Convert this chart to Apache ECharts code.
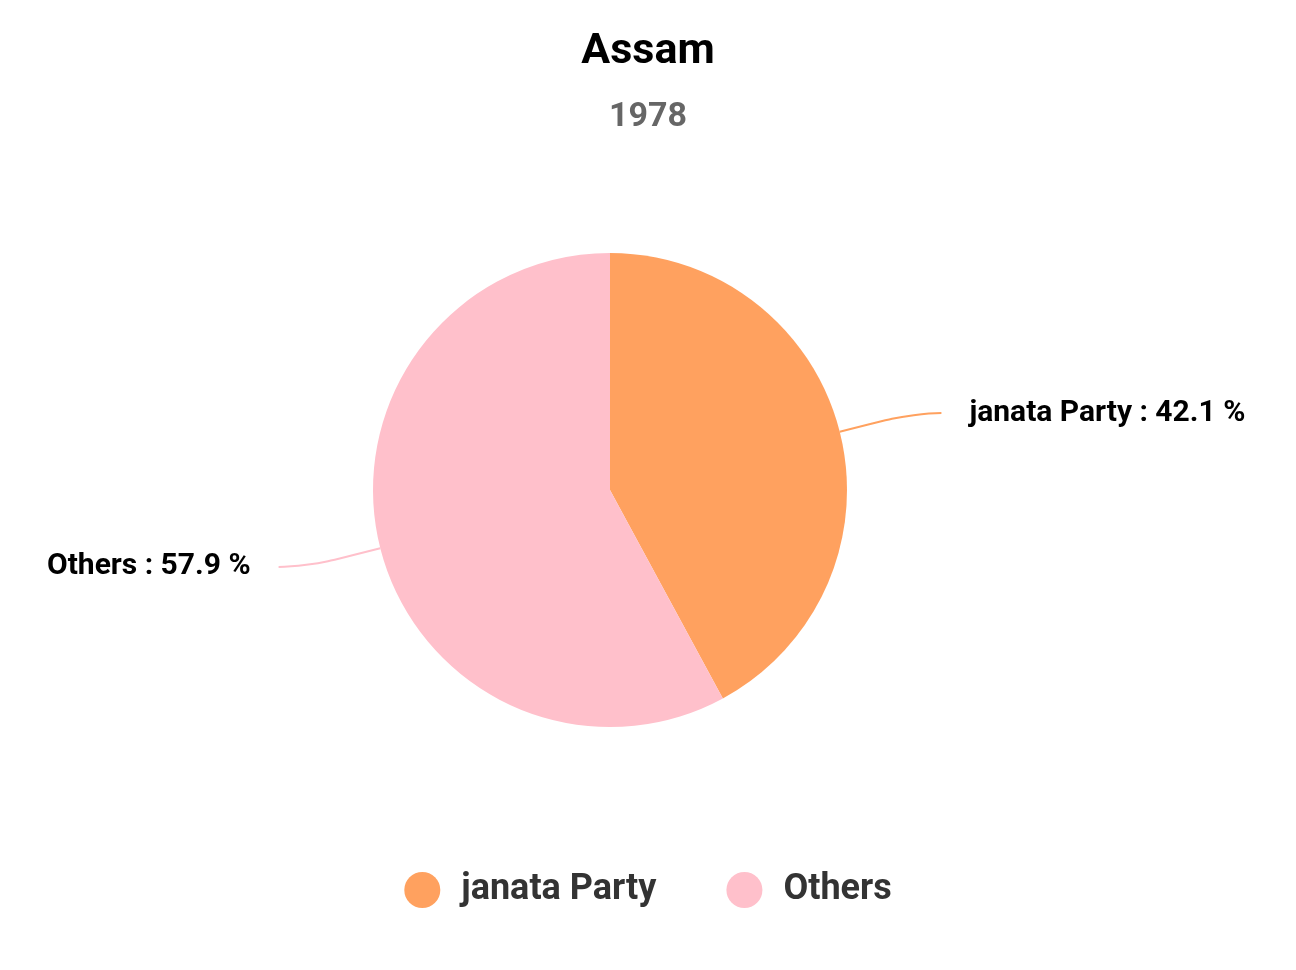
<!DOCTYPE html>
<html><head><meta charset="utf-8">
<script src="https://cdn.jsdelivr.net/npm/echarts@6/dist/echarts.min.js"></script>
<style>html,body{margin:0;padding:0;background:#fff}#c{width:1296px;height:970px}</style>
</head><body><div id="c"></div>
<script>
const categories = ['janata Party', 'Others'];
const values = [42.1, 57.9];
const colors = ['#FFA15F', '#FFC0CB'];
const chart = echarts.init(document.getElementById('c'));
chart.setOption({
  animation: false,
  color: colors,
  title: {
    text: 'Assam', subtext: '1978', left: 'center', top: 26,
    textStyle: { fontFamily: 'Roboto', fontWeight: 'bold', fontSize: 43, color: '#000' },
    subtextStyle: { fontFamily: 'Roboto', fontWeight: 'bold', fontSize: 34, color: '#666' },
    itemGap: 26
  },
  legend: {
    bottom: 57, left: 'center', icon: 'circle', itemWidth: 36, itemHeight: 36, itemGap: 70,
    textStyle: { fontFamily: 'Roboto', fontWeight: 'bold', fontSize: 36, color: '#333', padding: [0, 0, 0, 16] },
    data: categories
  },
  series: [{
    type: 'pie', radius: 237, center: [610, 490], startAngle: 90, clockwise: true,
    data: categories.map((n, i) => ({ name: n, value: values[i] })),
    label: {
      formatter: '{b} : {c} %', fontFamily: 'Roboto', fontWeight: 'bold', fontSize: 30, color: '#000',
      distanceToLabelLine: 28
    },
    labelLine: { length: 76, length2: 28, smooth: 0.6, lineStyle: { width: 2 } }
  }]
});
</script></body></html>
